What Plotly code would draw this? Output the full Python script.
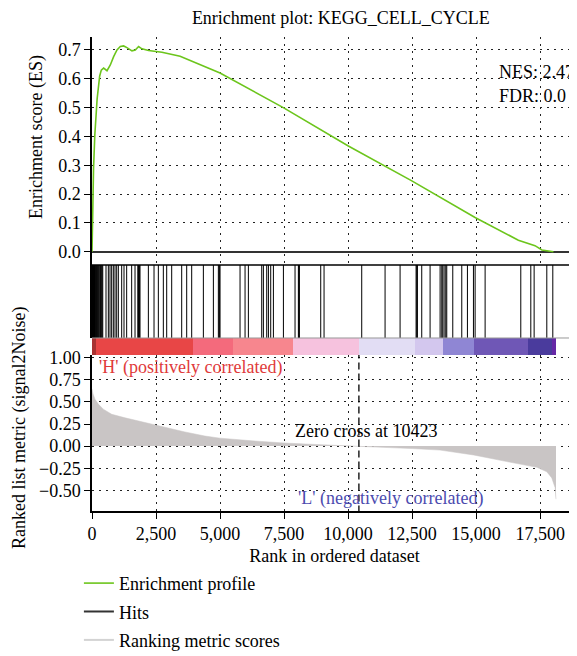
import plotly.graph_objects as go

# ---------------- data ----------------
es_rank = [0, 5, 25, 60, 110, 200, 300, 363, 454, 586, 715, 845, 975, 1105, 1235, 1365,
           1560, 1690, 1820, 1950, 2210, 2730, 3440, 5000, 7470, 10010, 12490, 14960,
           16650, 17300, 17570, 18020]
es_score = [0.0, 0.11, 0.115, 0.29, 0.405, 0.53, 0.61, 0.63, 0.637, 0.628, 0.648, 0.677,
            0.70, 0.712, 0.714, 0.708, 0.697, 0.70, 0.712, 0.704, 0.698, 0.692, 0.678,
            0.62, 0.50, 0.367, 0.246, 0.119, 0.040, 0.021, 0.006, 0.0]

hits = [0, 12, 25, 38, 50, 64, 80, 96, 112, 130, 150, 172, 195, 220, 248, 275, 305, 335,
        365, 395, 420, 547, 638, 703, 768, 833, 898, 964, 1029, 1159, 1250, 1354, 1549,
        1680, 1790, 1810, 1830, 1849, 1875, 2201, 2422, 2591, 2786, 2917, 3112, 3503,
        3698, 3893, 4349, 4740, 4935, 4974, 5000, 5781, 5977, 6107, 6628, 6693, 6823,
        6889, 6979, 7084, 7475, 7929, 8060, 8080, 8099, 8932, 9062, 10533, 11445, 12031,
        12656, 12682, 12708, 12877, 13203, 13594, 13659, 13698, 13750, 13815, 13854,
        14089, 14440, 14661, 14896, 14961, 15352, 16745, 17136, 17266, 17761, 17995]

metric_rank = [0, 40, 117, 247, 440, 770, 1290, 2070, 2850, 3630, 4410, 5000, 6250, 7500,
               9000, 10423, 11500, 12500, 13590, 14895, 16200, 17370, 17760, 17955, 18085,
               18120]
metric_val = [0.647, 0.59, 0.53, 0.475, 0.418, 0.36, 0.32, 0.267, 0.21, 0.16, 0.114, 0.09,
              0.06, 0.035, 0.015, 0.0, -0.012, -0.028, -0.045, -0.10, -0.175, -0.24, -0.29,
              -0.36, -0.47, -0.6]

bar_edges = [0, 150, 3950, 5500, 7850, 10423, 12620, 13700, 14900, 17030, 17970, 18120]
bar_colors = ["#a83232", "#e84646", "#f46a7c", "#f7868e", "#f6c2de", "#e2ddf4",
              "#d3c7ee", "#8f86d4", "#6f57b6", "#4a3b9d", "#6628a6"]

zero_cross = 10423
nes_text = "NES: 2.47"
fdr_text = "FDR: 0.0"
title_text = "Enrichment plot: KEGG_CELL_CYCLE"
x_ticks = [0, 2500, 5000, 7500, 10000, 12500, 15000, 17500]
es_ticks = [0.0, 0.1, 0.2, 0.3, 0.4, 0.5, 0.6, 0.7]
metric_ticks = [-0.5, -0.25, 0.0, 0.25, 0.5, 0.75, 1.0]

# ---------------- style ----------------
FONT = "Liberation Serif"
FS = 18
GREEN = "#6cc51c"
FILL = "#c9c5c5"
XR = [0, 18940]
D_TOP = [0.519, 1.0]
D_HIT = [0.365, 0.519]
D_BAR = [0.329, 0.365]
D_BOT = [0.0, 0.329]
GRID = dict(showgrid=True, gridcolor="#222", gridwidth=1.3, griddash="2px,5px")

fig = go.Figure()

# enrichment profile
fig.add_trace(go.Scatter(x=es_rank, y=es_score, mode="lines", name="Enrichment profile",
                         line=dict(color=GREEN, width=1.6), xaxis="x2", yaxis="y2",
                         legendgroup="a"))

# hits
hx, hy = [], []
for h in hits:
    hx += [h, h, None]
    hy += [0, 1, None]
fig.add_trace(go.Scatter(x=hx, y=hy, mode="lines", name="Hits", showlegend=False,
                         line=dict(color="black", width=1), xaxis="x3", yaxis="y3"))

# colour bar
n = len(bar_colors)
fig.add_trace(go.Heatmap(x=bar_edges, y=[0, 1], z=[list(range(n))], zmin=0, zmax=n - 1,
                         colorscale=[[i / (n - 1), c] for i, c in enumerate(bar_colors)],
                         showscale=False, hoverinfo="skip", xaxis="x4", yaxis="y4"))

# ranked metric
fig.add_trace(go.Scatter(x=metric_rank, y=metric_val, mode="lines", fill="tozeroy",
                         fillcolor=FILL, line=dict(color=FILL, width=0.5),
                         name="Ranking metric scores", showlegend=False,
                         xaxis="x", yaxis="y"))
fig.add_trace(go.Scatter(x=[zero_cross, zero_cross], y=[-0.75, 1.03], mode="lines",
                         line=dict(color="black", width=1.3, dash="7px,4px"),
                         showlegend=False, hoverinfo="skip", xaxis="x", yaxis="y"))

# legend-only entries
fig.add_trace(go.Scatter(x=[None], y=[None], mode="lines", name="Hits",
                         line=dict(color="#333333", width=2), legendgroup="b",
                         xaxis="x", yaxis="y"))
fig.add_trace(go.Scatter(x=[None], y=[None], mode="lines", name="Ranking metric scores",
                         line=dict(color="#d3d3d3", width=2), legendgroup="c",
                         xaxis="x", yaxis="y"))

tickfont = dict(family=FONT, size=FS, color="black")
# the page body has an 8px margin, so the figure is 8px smaller than the window
fig.update_layout(
    width=569, height=648,
    margin=dict(l=84, r=0, t=29, b=145, autoexpand=False),
    plot_bgcolor="white", paper_bgcolor="white",
    font=dict(family=FONT, size=FS, color="black"),
    title=dict(text=title_text, x=0.585, xanchor="center", y=0.9855, yanchor="middle",
               font=dict(family=FONT, size=FS, color="black")),
    xaxis=dict(domain=[0, 1], range=XR, anchor="y", tickvals=x_ticks, tickformat=",d",
               showline=True, linecolor="black", linewidth=1.5, ticks="outside",
               ticklen=6, tickcolor="black", tickfont=tickfont, zeroline=False,
               title=dict(text="Rank in ordered dataset", standoff=6,
                          font=dict(family=FONT, size=FS)), **GRID),
    yaxis=dict(domain=D_BOT, range=[-0.734, 1.03], anchor="x", tickvals=metric_ticks,
               tickformat=".2f", showline=True, linecolor="black", linewidth=1.5,
               ticks="outside", ticklen=6, tickcolor="black", tickfont=tickfont,
               zeroline=False, **GRID),
    xaxis2=dict(domain=[0, 1], range=XR, anchor="y2", matches="x", tickvals=x_ticks,
                showticklabels=False, showline=False, zeroline=False, **GRID),
    yaxis2=dict(domain=D_TOP, range=[-0.046, 0.745], anchor="x2", tickvals=es_ticks,
                tickformat=".1f", showline=True, linecolor="black", linewidth=1.5,
                ticks="outside", ticklen=6, tickcolor="black", tickfont=tickfont,
                zeroline=True, zerolinecolor="#333", zerolinewidth=1.6, **GRID),
    xaxis3=dict(domain=[0, 1], range=XR, anchor="y3", matches="x", showgrid=False,
                showticklabels=False, showline=False, zeroline=False),
    yaxis3=dict(domain=D_HIT, range=[0, 1], anchor="x3", showgrid=False,
                showticklabels=False, showline=True, linecolor="black", linewidth=1.5,
                zeroline=False),
    xaxis4=dict(domain=[0, 1], range=XR, anchor="y4", matches="x", showgrid=False,
                showticklabels=False, showline=False, zeroline=False),
    yaxis4=dict(domain=D_BAR, range=[0, 1], anchor="x4", showgrid=False,
                showticklabels=False, showline=False, zeroline=False),
    legend=dict(x=-0.027, xanchor="left", y=-0.1137, yanchor="top",
                font=dict(family=FONT, size=FS, color="black"),
                tracegroupgap=2, traceorder="grouped", bgcolor="rgba(0,0,0,0)",
                itemwidth=30),
    shapes=[
        dict(type="line", xref="paper", yref="paper", x0=0, x1=1, y0=D_HIT[1], y1=D_HIT[1],
             line=dict(color="black", width=1.6)),
        dict(type="line", xref="paper", yref="paper", x0=0, x1=1, y0=D_HIT[0], y1=D_HIT[0],
             line=dict(color="#999", width=1)),
    ],
    annotations=[
        dict(text=nes_text, x=15820, y=0.624, xref="x2", yref="y2", xanchor="left",
             yanchor="middle", showarrow=False, font=dict(family=FONT, size=FS)),
        dict(text=fdr_text, x=15820, y=0.54, xref="x2", yref="y2", xanchor="left",
             yanchor="middle", showarrow=False, font=dict(family=FONT, size=FS)),
        dict(text="'H' (positively correlated)", x=207, y=0.886, xref="x", yref="y",
             xanchor="left", yanchor="middle", showarrow=False,
             font=dict(family=FONT, size=FS, color="#e03a3a")),
        dict(text="Zero cross at " + str(zero_cross), x=10700, y=0.168, xref="x", yref="y",
             xanchor="center", yanchor="middle", showarrow=False,
             font=dict(family=FONT, size=FS, color="black")),
        dict(text="'L' (negatively correlated)", x=11650, y=-0.596, xref="x", yref="y",
             xanchor="center", yanchor="middle", showarrow=False,
             font=dict(family=FONT, size=FS, color="#4c4caf")),
        dict(text="Enrichment score (ES)", x=-0.1155, y=0.789, xref="paper",
             yref="paper", textangle=-90, showarrow=False, xanchor="center",
             yanchor="middle", font=dict(family=FONT, size=FS)),
        dict(text="Ranked list metric (signal2Noise)", x=-0.1505, y=0.175, xref="paper",
             yref="paper", textangle=-90, showarrow=False, xanchor="center",
             yanchor="middle", font=dict(family=FONT, size=FS)),
    ],
)

fig.write_html("out.html")
